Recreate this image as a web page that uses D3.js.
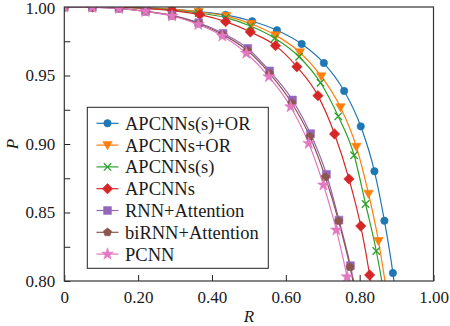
<!DOCTYPE html>
<html>
<head>
<meta charset="utf-8">
<script src="https://cdn.jsdelivr.net/npm/d3@7"></script>
<style>
  body { margin: 0; background: #fff; }
  svg { display: block; }
</style>
</head>
<body>
<svg id="chart" width="450" height="326"></svg>
<script>
// Precision–recall curves, one pair of arrays per model (last point lies below the axis and is clipped)
const seriesNames = ["APCNNs(s)+OR", "APCNNs+OR", "APCNNs(s)", "APCNNs", "RNN+Attention", "biRNN+Attention", "PCNN"];
const seriesColors = ["#1f77b4", "#ff7f0e", "#2ca02c", "#d62728", "#9467bd", "#8c564b", "#e377c2"];
const seriesMarkers = ["circle", "triangleDown", "x", "diamond", "square", "pentagon", "star"];

const recallApcnnsSOr = [0, 0.076, 0.148, 0.220, 0.292, 0.364, 0.437, 0.509, 0.576, 0.643, 0.703, 0.758, 0.803, 0.840, 0.867, 0.890, 0.908];
const precisionApcnnsSOr = [1.000, 1.000, 0.9998, 0.9993, 0.9985, 0.9967, 0.9942, 0.9896, 0.9830, 0.9730, 0.9591, 0.9387, 0.9129, 0.8801, 0.8440, 0.8058, 0.765];

const recallApcnnsOr = [0, 0.076, 0.148, 0.220, 0.292, 0.364, 0.439, 0.507, 0.573, 0.638, 0.696, 0.748, 0.791, 0.824, 0.851, 0.873];
const precisionApcnnsOr = [1.000, 1.000, 0.9998, 0.9993, 0.9982, 0.9964, 0.9934, 0.9876, 0.9793, 0.9669, 0.9494, 0.9268, 0.8980, 0.8637, 0.8292, 0.792];

const recallApcnnsS = [0, 0.076, 0.148, 0.221, 0.292, 0.364, 0.437, 0.504, 0.570, 0.636, 0.694, 0.742, 0.785, 0.816, 0.845, 0.869];
const precisionApcnnsS = [1.000, 1.000, 0.9998, 0.9991, 0.9978, 0.9956, 0.9923, 0.9861, 0.9772, 0.9637, 0.9447, 0.9202, 0.8918, 0.8562, 0.8219, 0.786];

const recallApcnns = [0, 0.076, 0.148, 0.221, 0.292, 0.367, 0.437, 0.504, 0.572, 0.630, 0.687, 0.732, 0.771, 0.803, 0.827, 0.846];
const precisionApcnns = [1.000, 1.000, 0.9998, 0.9989, 0.9974, 0.9944, 0.9893, 0.9818, 0.9718, 0.9564, 0.9353, 0.9073, 0.8745, 0.8401, 0.8044, 0.768];

const recallRnnAtt = [0, 0.076, 0.148, 0.220, 0.292, 0.364, 0.430, 0.497, 0.556, 0.618, 0.667, 0.710, 0.744, 0.775, 0.800];
const precisionRnnAtt = [1.000, 0.9998, 0.9991, 0.9969, 0.9939, 0.9885, 0.9808, 0.9697, 0.9533, 0.9321, 0.9075, 0.8779, 0.8445, 0.8112, 0.777];

const recallBiRnnAtt = [0, 0.076, 0.148, 0.220, 0.292, 0.364, 0.429, 0.496, 0.556, 0.616, 0.665, 0.707, 0.743, 0.774, 0.799];
const precisionBiRnnAtt = [1.000, 0.9998, 0.9990, 0.9968, 0.9937, 0.9880, 0.9799, 0.9682, 0.9515, 0.9299, 0.9055, 0.8759, 0.8438, 0.8102, 0.776];

const recallPcnn = [0, 0.076, 0.148, 0.220, 0.292, 0.363, 0.428, 0.493, 0.554, 0.613, 0.662, 0.702, 0.737, 0.766, 0.791];
const precisionPcnn = [1.000, 0.9998, 0.9989, 0.9967, 0.9934, 0.9872, 0.9788, 0.9662, 0.9491, 0.9272, 0.9005, 0.8701, 0.8372, 0.8031, 0.769];

const xTickValues = [0, 0.2, 0.4, 0.6, 0.8, 1.0];
const xTickLabels = ["0", "0.20", "0.40", "0.60", "0.80", "1.00"];
const yTickValues = [0.80, 0.85, 0.90, 0.95, 1.00];
const yTickLabels = ["0.80", "0.85", "0.90", "0.95", "1.00"];
const yMinorTicks = [0.825, 0.875, 0.925, 0.975];

const recallSets = [recallApcnnsSOr, recallApcnnsOr, recallApcnnsS, recallApcnns, recallRnnAtt, recallBiRnnAtt, recallPcnn];
const precisionSets = [precisionApcnnsSOr, precisionApcnnsOr, precisionApcnnsS, precisionApcnns, precisionRnnAtt, precisionBiRnnAtt, precisionPcnn];

const series = seriesNames.map((name, i) => ({
  name,
  color: seriesColors[i],
  marker: seriesMarkers[i],
  points: recallSets[i].map((r, j) => ({ r, p: precisionSets[i][j] }))
}));

const SERIF = '"Liberation Serif", "Times New Roman", Tinos, "DejaVu Serif", serif';
const TEXT_COLOR = "#1a1a1a";

const svg = d3.select("#chart");
const plot = { left: 64.3, right: 433.5, top: 7, bottom: 281 };

const x = d3.scaleLinear().domain([0, 1]).range([plot.left, plot.right]);
const y = d3.scaleLinear().domain([0.8, 1.0]).range([plot.bottom, plot.top]);

svg.append("defs").append("clipPath").attr("id", "plot-clip")
  .append("rect")
  .attr("x", plot.left).attr("y", plot.top)
  .attr("width", plot.right - plot.left).attr("height", plot.bottom - plot.top);

// Marker glyphs
function markerPath(kind) {
  if (kind === "circle") return d3.symbol(d3.symbolCircle, Math.PI * 3.7 * 3.7)();
  if (kind === "triangleDown") return "M-4.7,-3.5L4.7,-3.5L0,4.7Z";
  if (kind === "x") return "M-3.7,-3.7L3.7,3.7M-3.7,3.7L3.7,-3.7";
  if (kind === "diamond") return "M0,-5.2L5.2,0L0,5.2L-5.2,0Z";
  if (kind === "square") return "M-3.9,-3.9H3.9V3.9H-3.9Z";
  if (kind === "pentagon") {
    const r = 4.3;
    return d3.range(5).map(k => {
      const a = -Math.PI / 2 + k * 2 * Math.PI / 5;
      return (k ? "L" : "M") + (r * Math.cos(a)).toFixed(2) + "," + (r * Math.sin(a)).toFixed(2);
    }).join("") + "Z";
  }
  if (kind === "star") return d3.symbol(d3.symbolStar, 44)();
  return "";
}

function drawMarker(g, kind, color) {
  const path = g.append("path").attr("d", markerPath(kind));
  if (kind === "x") {
    path.attr("fill", "none").attr("stroke", color).attr("stroke-width", 1.3);
  } else {
    path.attr("fill", color).attr("stroke", color).attr("stroke-width", 0.6);
  }
}

// Axes: ticks pointing inward
const xAxis = d3.axisBottom(x).tickValues(xTickValues).tickSize(-6).tickPadding(10)
  .tickFormat((d, i) => xTickLabels[i]);
const yAxis = d3.axisLeft(y).tickValues(yTickValues).tickSize(-6).tickPadding(9)
  .tickFormat((d, i) => yTickLabels[i]);

const gx = svg.append("g").attr("transform", `translate(0,${plot.bottom})`).call(xAxis);
const gy = svg.append("g").attr("transform", `translate(${plot.left},0)`).call(yAxis);
const gm = svg.append("g").attr("transform", `translate(${plot.left},0)`)
  .call(d3.axisLeft(y).tickValues(yMinorTicks).tickSize(-6).tickFormat(""));

[gx, gy, gm].forEach(g => {
  g.attr("font-family", SERIF).attr("font-size", 17);
  g.select(".domain").remove();
  g.selectAll(".tick line").attr("stroke", "#222").attr("stroke-width", 1);
  g.selectAll(".tick text").attr("fill", TEXT_COLOR);
});
// keep the top label inside the page
gy.selectAll(".tick text").filter((d) => d === 1.0).attr("dy", "0.38em");

// Data curves
const line = d3.line().x(d => x(d.r)).y(d => y(d.p)).curve(d3.curveMonotoneX);
const curves = svg.append("g").attr("clip-path", "url(#plot-clip)");

series.forEach(s => {
  curves.append("path")
    .datum(s.points)
    .attr("d", line)
    .attr("fill", "none")
    .attr("stroke", s.color)
    .attr("stroke-width", 1.2);
});
series.forEach(s => {
  s.points.forEach(pt => {
    const g = curves.append("g").attr("transform", `translate(${x(pt.r)},${y(pt.p)})`);
    drawMarker(g, s.marker, s.color);
  });
});

// Frame
svg.append("rect")
  .attr("x", plot.left).attr("y", plot.top)
  .attr("width", plot.right - plot.left).attr("height", plot.bottom - plot.top)
  .attr("fill", "none").attr("stroke", "#333").attr("stroke-width", 1.2);

// Axis titles
svg.append("text")
  .attr("x", x(0.5)).attr("y", 322)
  .attr("text-anchor", "middle")
  .attr("font-family", SERIF).attr("font-size", 17).attr("font-style", "italic")
  .attr("fill", TEXT_COLOR)
  .text("R");
svg.append("text")
  .attr("transform", `translate(18,${(plot.top + plot.bottom) / 2}) rotate(-90)`)
  .attr("text-anchor", "middle")
  .attr("font-family", SERIF).attr("font-size", 17).attr("font-style", "italic")
  .attr("fill", TEXT_COLOR)
  .text("P");

// Legend
const legend = svg.append("g");
legend.append("rect")
  .attr("x", 87.3).attr("y", 107.3)
  .attr("width", 181).attr("height", 161)
  .attr("fill", "#fff").attr("stroke", "#222").attr("stroke-width", 1);

series.forEach((s, i) => {
  const cy = 123.3 + i * 21.8;
  legend.append("line")
    .attr("x1", 96.5).attr("x2", 118.5).attr("y1", cy).attr("y2", cy)
    .attr("stroke", s.color).attr("stroke-width", 1.2);
  const g = legend.append("g").attr("transform", `translate(107.5,${cy})`);
  drawMarker(g, s.marker, s.color);
  legend.append("text")
    .attr("x", 125).attr("y", cy)
    .attr("dy", "0.35em")
    .attr("font-family", SERIF).attr("font-size", 18.5)
    .attr("fill", TEXT_COLOR)
    .text(s.name);
});
</script>
</body>
</html>
